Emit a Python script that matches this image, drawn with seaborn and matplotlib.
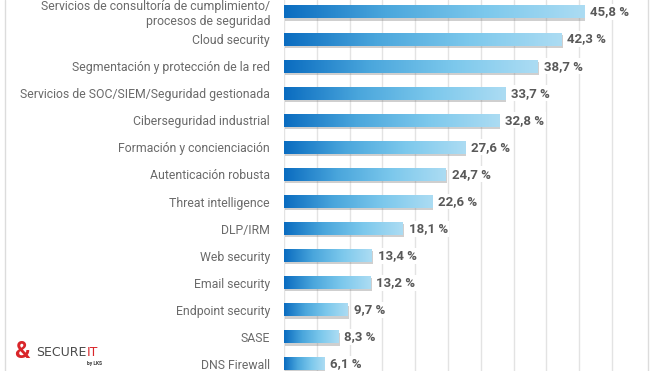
import matplotlib
matplotlib.use("Agg")
import matplotlib.pyplot as plt
import matplotlib.patheffects as pe
from matplotlib.colors import LinearSegmentedColormap
import numpy as np
import pandas as pd
import seaborn as sns

categories = [
    "Servicios de consultoría de cumplimiento/\nprocesos de seguridad",
    "Cloud security",
    "Segmentación y protección de la red",
    "Servicios de SOC/SIEM/Seguridad gestionada",
    "Ciberseguridad industrial",
    "Formación y concienciación",
    "Autenticación robusta",
    "Threat intelligence",
    "DLP/IRM",
    "Web security",
    "Email security",
    "Endpoint security",
    "SASE",
    "DNS Firewall",
]
values = [45.8, 42.3, 38.7, 33.7, 32.8, 27.6, 24.7, 22.6, 18.1, 13.4, 13.2, 9.7, 8.3, 6.1]
value_labels = ["45,8 %", "42,3 %", "38,7 %", "33,7 %", "32,8 %", "27,6 %", "24,7 %",
                "22,6 %", "18,1 %", "13,4 %", "13,2 %", "9,7 %", "8,3 %", "6,1 %"]

df = pd.DataFrame({"cat": categories, "val": values})

sns.set_theme(style="white")
plt.rcParams["font.family"] = ["Roboto", "DejaVu Sans"]

fig = plt.figure(figsize=(6.59, 3.71), dpi=100)
ax = fig.add_axes([284 / 659, 0, (648 - 284) / 659, 1])

sns.barplot(data=df, x="val", y="cat", ax=ax, color="#1f7fcf", width=0.48,
            linewidth=0, edgecolor="none", zorder=3)

ax.set_xlim(0, 55.5)
ax.set_ylim(13.26, -0.443)
ax.set_xticks(np.arange(0, 55, 5))
ax.xaxis.grid(True, color="#e3e3e3", linewidth=1.0, zorder=0)
ax.yaxis.grid(False)
ax.set_xlabel("")
ax.set_ylabel("")
ax.tick_params(axis="x", bottom=False, labelbottom=False)
ax.tick_params(axis="y", left=False, pad=4, labelsize=8.8, labelcolor="#6a6a6a")
for s in ["top", "bottom", "left"]:
    ax.spines[s].set_visible(False)
ax.spines["right"].set_color("#dcdcdc")
ax.spines["right"].set_linewidth(1.0)

cmap = LinearSegmentedColormap.from_list("g", ["#0a6cc0", "#4aa6dc", "#7cc8ec", "#acdcf3"])
grad = np.linspace(0, 1, 256).reshape(1, -1)
for bar in ax.patches:
    bar.set_path_effects([pe.SimplePatchShadow(offset=(0.8, -1.6), shadow_rgbFace="#777777", alpha=0.35),
                          pe.Normal()])
    x0, y0 = bar.get_x(), bar.get_y()
    w, h = bar.get_width(), bar.get_height()
    im = ax.imshow(grad, extent=[x0, x0 + w, y0 + h, y0], aspect="auto", cmap=cmap,
                   zorder=4, interpolation="bilinear")
    im.set_clip_path(bar)

for i, (v, lab) in enumerate(zip(values, value_labels)):
    ax.text(v + 0.9, i, lab, va="center", ha="left", fontsize=9.5, fontweight="bold",
            color="#595959", zorder=6,
            bbox=dict(facecolor="white", edgecolor="none", pad=1.0))

# Left frame line
fig.add_artist(plt.Line2D([4.5 / 659, 4.5 / 659], [0, 1], color="#dcdcdc", linewidth=1.0))

# Logo text
fig.text(14 / 659, 1 - 351 / 371, "&", fontsize=17, fontweight="bold", color="#d9262a",
         va="center", ha="left")
t_sec = fig.text(36 / 659, 1 - 353 / 371, "SECURE", fontsize=9, color="#4a4a4a",
                 va="center", ha="left", fontfamily=["DejaVu Sans"])
fig.canvas.draw()
bb = t_sec.get_window_extent()
fig.text((bb.x1 + 0.5) / 659, 1 - 353 / 371, "IT", fontsize=9, color="#d9262a",
         va="center", ha="left", fontfamily=["DejaVu Sans"])
fig.text((bb.x1 + 1) / 659, 1 - 363 / 371, "by LKS", fontsize=3.5, color="#333333",
         va="center", ha="left", fontweight="bold")

fig.savefig("out.png", dpi=100)
